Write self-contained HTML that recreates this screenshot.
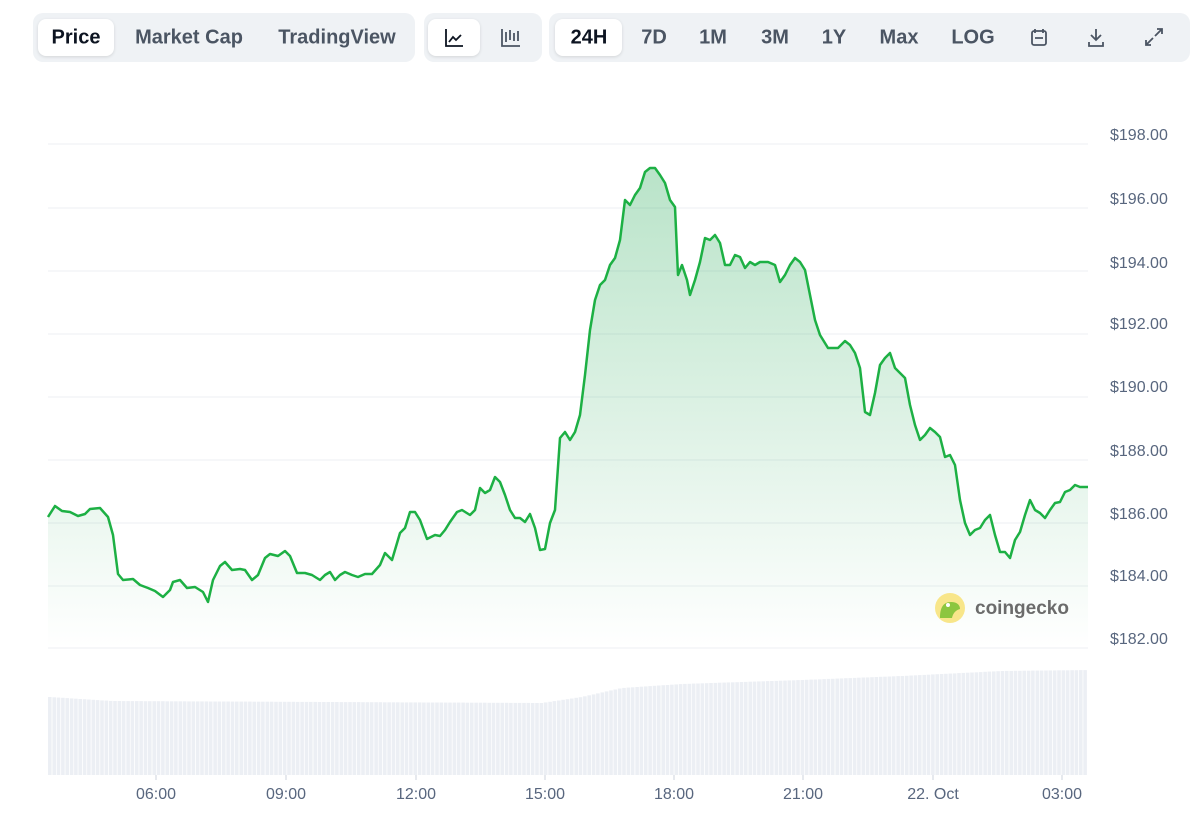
<!DOCTYPE html>
<html><head><meta charset="utf-8"><style>
body{margin:0;width:1200px;height:833px;background:#fff;font-family:"Liberation Sans",sans-serif;position:relative;overflow:hidden}
.g{position:absolute;top:13px;height:49px;background:#eff2f5;border-radius:10px}
.b{position:absolute;top:6px;height:37px;border-radius:8px;background:#fff;box-shadow:0 1px 3px rgba(0,0,0,.12)}
.t{position:absolute;top:38px;transform:translate(-50%,-50%);font-size:20px;font-weight:bold;color:#4b5563;white-space:nowrap}
.t.k{color:#0d1421}
.y{position:absolute;left:1110px;font-size:16px;color:#58667e;transform:translateY(-50%)}
.x{position:absolute;top:795px;font-size:16px;color:#58667e;transform:translate(-50%,-50%)}
</style></head><body>
<div class="g" style="left:33px;width:382px"><div class="b" style="left:5px;width:76px"></div></div>
<div class="g" style="left:424px;width:118px"><div class="b" style="left:4px;width:52px"></div></div>
<div class="g" style="left:549px;width:641px"><div class="b" style="left:6px;width:67px"></div></div>
<div class="t k" style="left:76px">Price</div>
<div class="t" style="left:189px">Market Cap</div>
<div class="t" style="left:337px">TradingView</div>
<div class="t k" style="left:589px">24H</div>
<div class="t" style="left:654px">7D</div>
<div class="t" style="left:713px">1M</div>
<div class="t" style="left:775px">3M</div>
<div class="t" style="left:834px">1Y</div>
<div class="t" style="left:899px">Max</div>
<div class="t" style="left:973px">LOG</div>
<svg style="position:absolute;left:0;top:0" width="1200" height="833">
<g fill="none" stroke="#0d1421" stroke-width="1.8"><path d="M446 29v17h17M449 42l4-5 3 3 5-5"/></g>
<g fill="none" stroke="#4b5563" stroke-width="1.8"><path d="M502 29v17h18M506 32v10M510 30v10M514 33v8M518 31v10"/>
<rect x="1032" y="31" width="14" height="14" rx="2"/><path d="M1035 29v4M1043 29v4M1035 38h8"/>
<path d="M1096 29v11M1091 35l5 5 5-5M1089 42v4h14v-4"/>
<path d="M1155 36l7-7M1157 29h5v5M1153 38l-7 7M1146 40v5h5"/></g>
<defs><linearGradient id="gr" x1="0" y1="0" x2="0" y2="1"><stop offset="0" stop-color="#16a34a" stop-opacity=".3"/><stop offset="1" stop-color="#16a34a" stop-opacity="0"/></linearGradient></defs>
<g stroke="#eceff3" stroke-width="1">
<line x1="48" x2="1088" y1="144" y2="144"/><line x1="48" x2="1088" y1="208" y2="208"/><line x1="48" x2="1088" y1="271" y2="271"/><line x1="48" x2="1088" y1="334" y2="334"/><line x1="48" x2="1088" y1="397" y2="397"/><line x1="48" x2="1088" y1="460" y2="460"/><line x1="48" x2="1088" y1="523" y2="523"/><line x1="48" x2="1088" y1="586" y2="586"/><line x1="48" x2="1088" y1="648" y2="648"/>
</g>
<g id="vol"></g>
<path id="fill" fill="url(#gr)"/>
<path id="ln" fill="none" stroke="#1db044" stroke-width="2.5" stroke-linejoin="round"/>
<g stroke="#ccd3dc"><line x1="156" x2="156" y1="775" y2="780"/><line x1="286" x2="286" y1="775" y2="780"/><line x1="416" x2="416" y1="775" y2="780"/><line x1="545" x2="545" y1="775" y2="780"/><line x1="674" x2="674" y1="775" y2="780"/><line x1="803" x2="803" y1="775" y2="780"/><line x1="933" x2="933" y1="775" y2="780"/><line x1="1062" x2="1062" y1="775" y2="780"/></g>
<circle cx="950" cy="608" r="15" fill="#f8e68a"/><path d="M940 618c0-10 3-16 11-16 6 0 9 3 9 7-4 1-7 4-8 9z" fill="#8dc63f"/><circle cx="948" cy="605" r="2" fill="#fff"/>
<text x="975" y="614" font-size="19" font-weight="bold" fill="#6b6b6b" font-family="Liberation Sans,sans-serif">coingecko</text>
</svg>
<div class="y" style="top:136px">$198.00</div><div class="y" style="top:200px">$196.00</div><div class="y" style="top:264px">$194.00</div><div class="y" style="top:325px">$192.00</div><div class="y" style="top:388px">$190.00</div><div class="y" style="top:452px">$188.00</div><div class="y" style="top:515px">$186.00</div><div class="y" style="top:577px">$184.00</div><div class="y" style="top:640px">$182.00</div>
<div class="x" style="left:156px">06:00</div><div class="x" style="left:286px">09:00</div><div class="x" style="left:416px">12:00</div><div class="x" style="left:545px">15:00</div><div class="x" style="left:674px">18:00</div><div class="x" style="left:803px">21:00</div><div class="x" style="left:933px">22. Oct</div><div class="x" style="left:1062px">03:00</div>
<script>
var p=[48,517,55,506,62,511,70,512,78,516,85,514,90,509,100,508,108,517,113,535,118,574,123,580,133,579,140,585,148,588,155,591,163,597,170,590,173,582,180,580,187,588,195,587,203,592,208,602,213,580,220,566,225,562,232,570,240,569,245,570,252,580,258,575,265,558,270,554,278,556,285,551,290,556,297,573,305,573,312,575,320,580,325,575,330,572,335,580,340,575,345,572,352,575,358,577,365,574,372,574,380,565,385,553,392,560,400,533,405,528,410,512,415,512,420,520,427,539,435,535,440,536,445,530,450,522,457,512,462,510,470,515,475,510,480,488,485,493,490,490,495,477,500,482,505,495,510,510,515,518,520,518,525,522,530,514,535,528,540,550,545,549,550,523,555,510,560,438,565,432,570,440,575,432,580,415,585,375,590,330,595,300,600,285,605,280,610,265,615,258,620,240,625,200,630,205,635,195,640,188,645,172,650,168,655,168,660,175,665,183,670,200,675,207,678,275,682,265,687,280,690,295,695,280,700,262,705,238,710,240,715,235,720,243,725,265,730,265,735,255,740,257,745,268,750,262,755,265,760,262,768,262,775,265,780,282,785,275,790,265,795,258,800,262,805,270,810,295,815,320,820,335,828,348,838,348,845,341,850,345,855,353,860,368,865,412,870,415,875,393,880,365,885,358,890,353,895,368,900,373,905,378,910,405,915,425,920,440,925,435,930,428,935,432,940,437,945,457,950,455,955,465,960,500,965,523,970,535,975,530,980,528,985,520,990,515,995,535,1000,552,1005,552,1010,558,1015,540,1020,532,1025,515,1030,500,1035,510,1040,513,1045,518,1050,510,1055,503,1060,502,1065,492,1070,490,1075,485,1080,487,1088,487];
var d="M"+p[0]+" "+p[1];for(var i=2;i<p.length;i+=2)d+="L"+p[i]+" "+p[i+1];
document.getElementById('ln').setAttribute('d',d);
document.getElementById('fill').setAttribute('d',d+"L1088 648L48 648Z");
function vt(x){var k=[[48,697],[110,701],[540,703],[580,697],[620,688],[680,684],[800,680],[900,676],[1000,671],[1088,670]];for(var i=1;i<k.length;i++){if(x<=k[i][0]){var a=k[i-1],b=k[i];return a[1]+(b[1]-a[1])*(x-a[0])/(b[0]-a[0]);}}return 670;}
var s="";for(var x=48;x<1085;x+=4.35){var t=vt(x);var w=Math.min(3.6,1088-x);s+='<rect x="'+x.toFixed(1)+'" y="'+t.toFixed(1)+'" width="'+w.toFixed(1)+'" height="'+(775-t).toFixed(1)+'" fill="#eceff4"/>';}
document.getElementById('vol').innerHTML=s;
</script>
</body></html>
